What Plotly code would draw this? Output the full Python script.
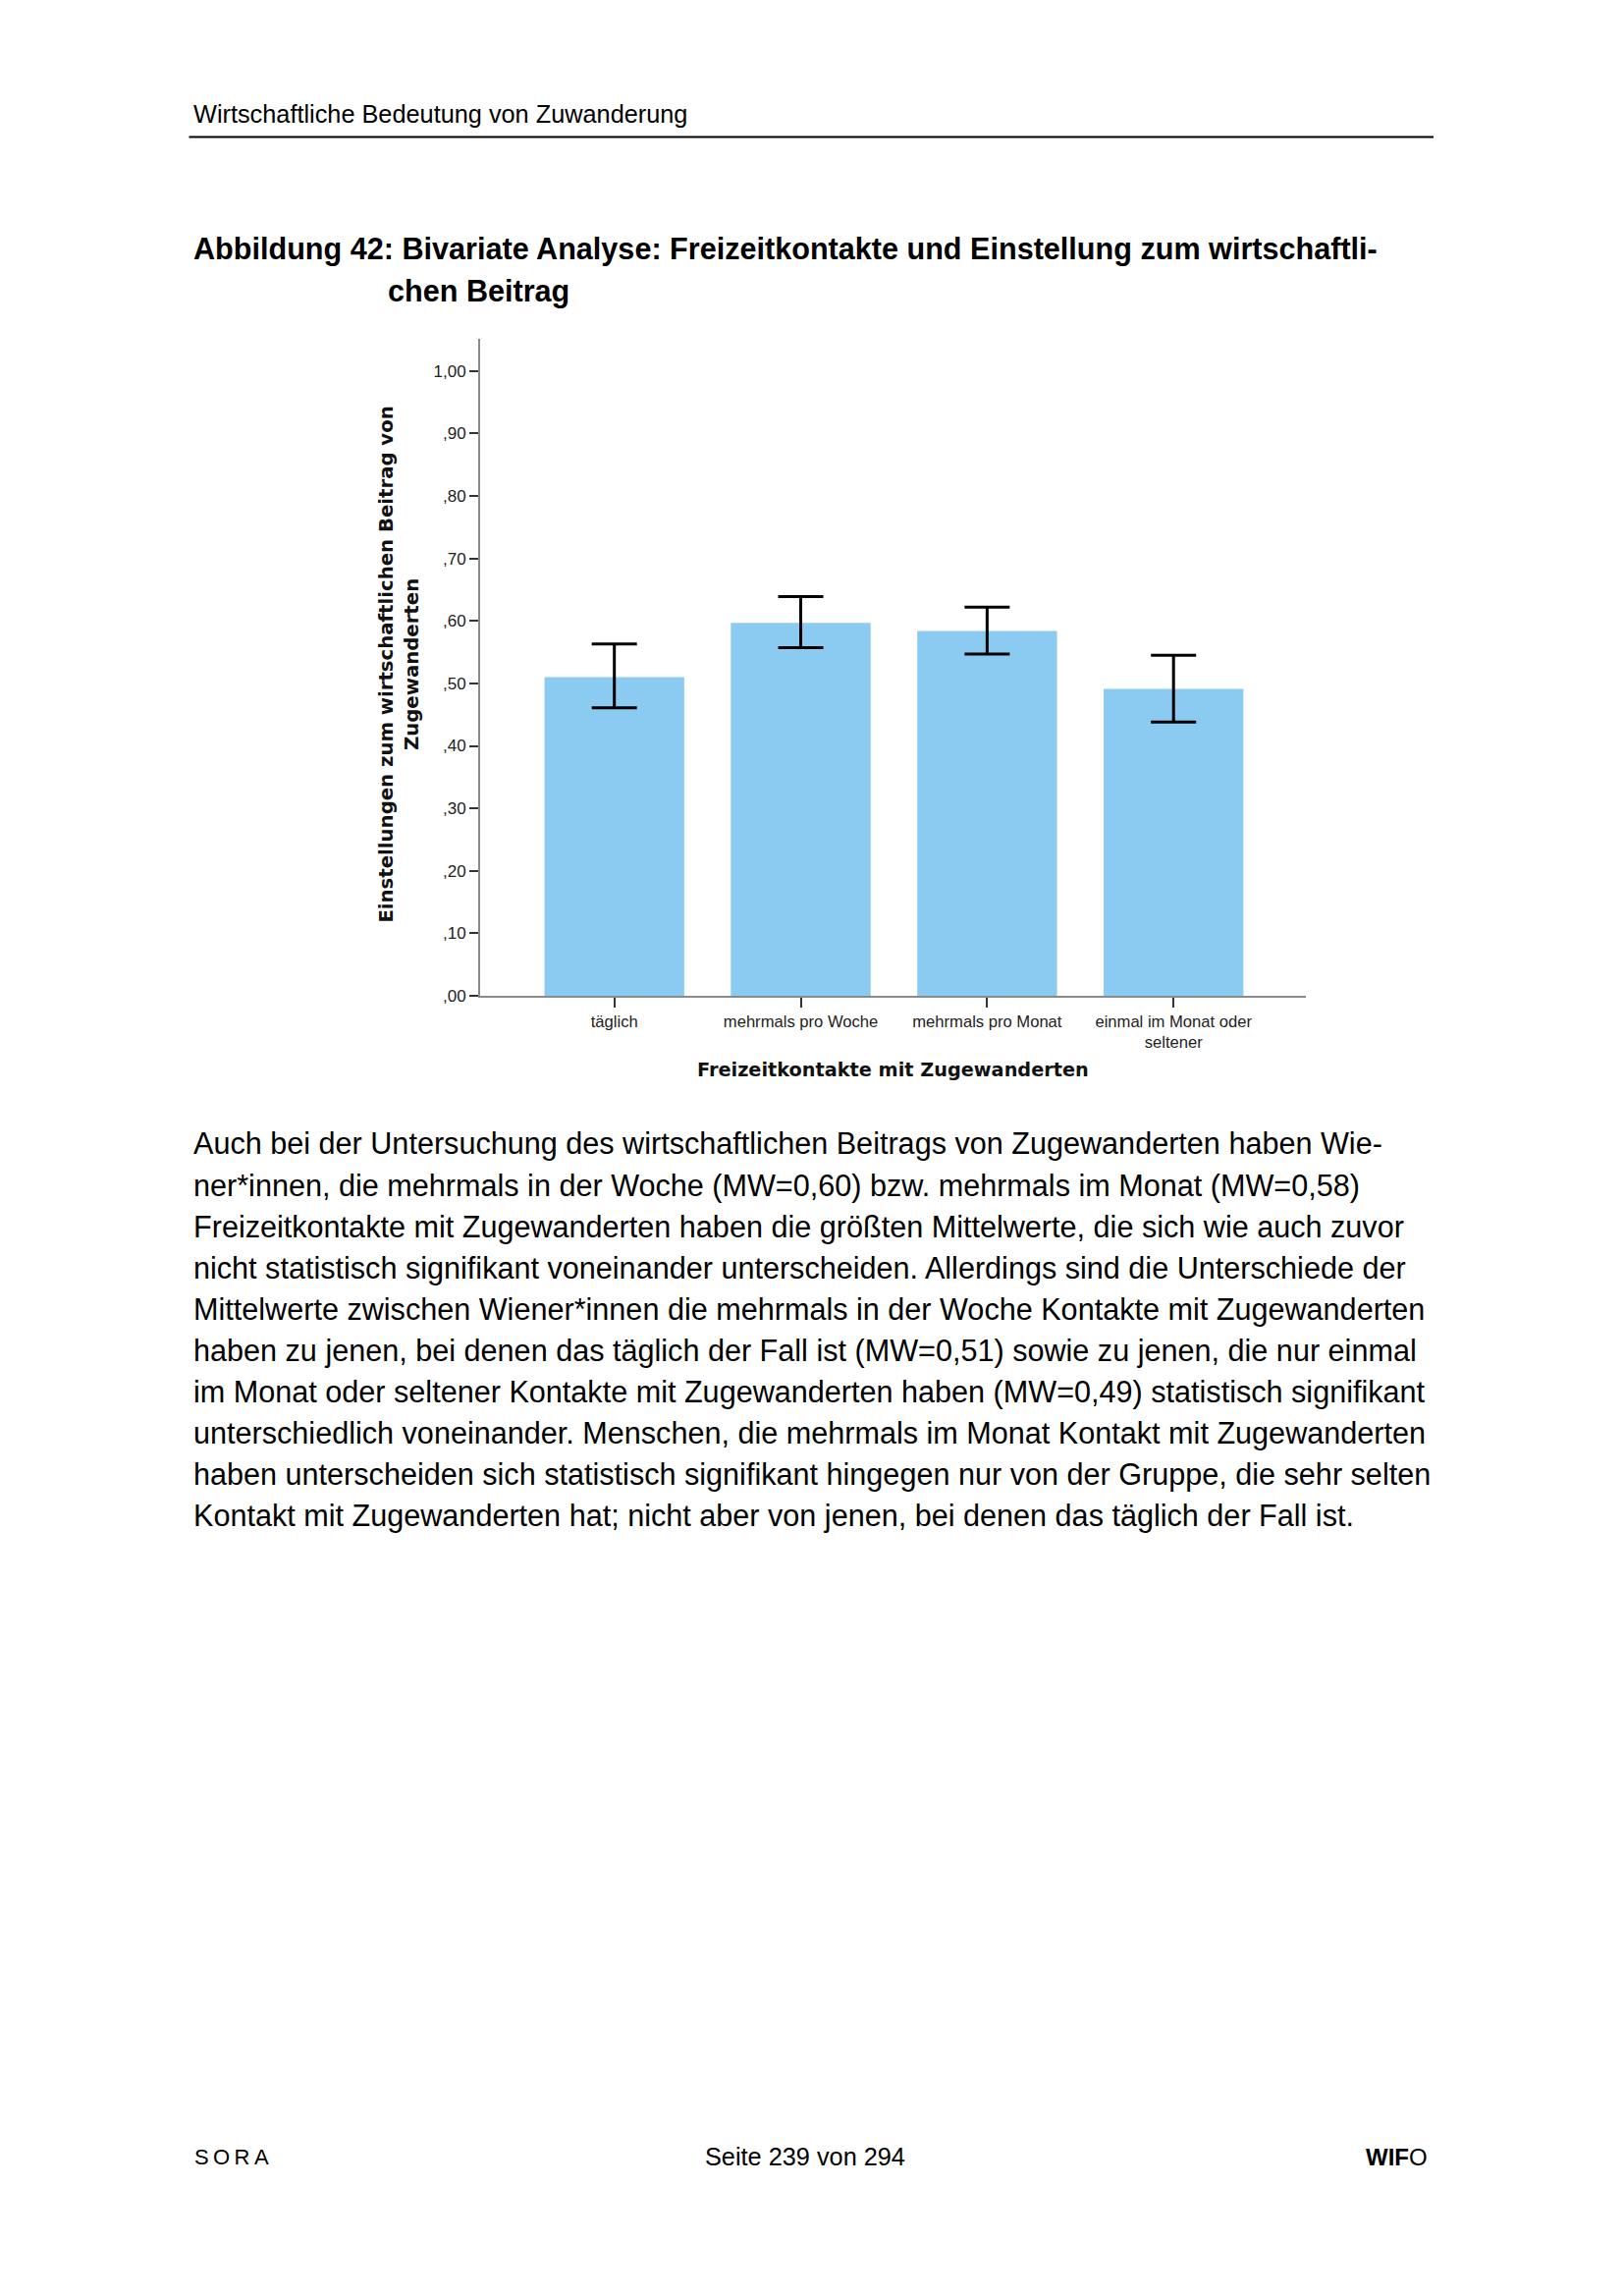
import plotly.graph_objects as go

# ---------------- data ----------------
categories = ["täglich", "mehrmals pro Woche", "mehrmals pro Monat", "einmal im Monat oder<br>seltener"]
means = [0.510, 0.597, 0.584, 0.491]
ci_upper = [0.563, 0.639, 0.622, 0.545]
ci_lower = [0.461, 0.557, 0.547, 0.438]
y_tick_vals = [0.0, 0.1, 0.2, 0.3, 0.4, 0.5, 0.6, 0.7, 0.8, 0.9, 1.0]
y_tick_text = [",00", ",10", ",20", ",30", ",40", ",50", ",60", ",70", ",80", ",90", "1,00"]

header_text = "Wirtschaftliche Bedeutung von Zuwanderung"
title_lines = ["Abbildung 42: Bivariate Analyse: Freizeitkontakte und Einstellung zum wirtschaftli-",
               "chen Beitrag"]
y_title = "Einstellungen zum wirtschaftlichen Beitrag von<br>Zugewanderten"
x_title = "Freizeitkontakte mit Zugewanderten"
body_lines = [
    "Auch bei der Untersuchung des wirtschaftlichen Beitrags von Zugewanderten haben Wie-",
    "ner*innen, die mehrmals in der Woche (MW=0,60) bzw. mehrmals im Monat (MW=0,58)",
    "Freizeitkontakte mit Zugewanderten haben die größten Mittelwerte, die sich wie auch zuvor",
    "nicht statistisch signifikant voneinander unterscheiden. Allerdings sind die Unterschiede der",
    "Mittelwerte zwischen Wiener*innen die mehrmals in der Woche Kontakte mit Zugewanderten",
    "haben zu jenen, bei denen das täglich der Fall ist (MW=0,51) sowie zu jenen, die nur einmal",
    "im Monat oder seltener Kontakte mit Zugewanderten haben (MW=0,49) statistisch signifikant",
    "unterschiedlich voneinander. Menschen, die mehrmals im Monat Kontakt mit Zugewanderten",
    "haben unterscheiden sich statistisch signifikant hingegen nur von der Gruppe, die sehr selten",
    "Kontakt mit Zugewanderten hat; nicht aber von jenen, bei denen das täglich der Fall ist.",
]
footer_left = "S\u2009O\u2009R\u2009A"
footer_center = "Seite 239 von 294"
footer_right_bold = "WIF"
footer_right_plain = "O"

# ---------------- layout helpers ----------------
W, H = 1654, 2338
def X(px):
    return px / W
def Y(py):
    return 1 - py / H

err_plus = [u - m for u, m in zip(ci_upper, means)]
err_minus = [m - l for m, l in zip(means, ci_lower)]

fig = go.Figure()
fig.add_trace(go.Bar(
    x=categories, y=means, width=0.75,
    marker=dict(color="#8BCBF2", line=dict(width=0)),
    error_y=dict(type="data", symmetric=False, array=err_plus, arrayminus=err_minus,
                 color="black", thickness=3, width=23),
    showlegend=False, hoverinfo="skip",
))

fig.update_layout(
    width=W, height=H,
    margin=dict(l=0, r=0, t=0, b=0),
    paper_bgcolor="white", plot_bgcolor="white",
    xaxis=dict(domain=[X(489), X(1330)], range=[-0.72, 3.71],
               showline=True, linecolor="#8a8a8a", linewidth=1.5,
               ticks="outside", ticklen=10, tickwidth=2, tickcolor="#333333",
               tickfont=dict(family="Liberation Sans, Arial", size=16.6, color="#222222"),
               showgrid=False, zeroline=False),
    yaxis=dict(domain=[Y(1018.5), Y(346)], range=[0, 1.052],
               tickvals=y_tick_vals, ticktext=y_tick_text,
               showline=True, linecolor="#8a8a8a", linewidth=2,
               ticks="outside", ticklen=9, tickwidth=2, tickcolor="#333333",
               tickfont=dict(family="Liberation Sans, Arial", size=17, color="#222222"),
               showgrid=False, zeroline=False),
    font=dict(family="Liberation Sans, Arial", color="black"),
)

ann = []
# header
ann.append(dict(text=header_text, x=X(195), y=Y(116), xanchor="left", yanchor="middle",
                font=dict(size=25.3, family="Liberation Sans, Arial")))
# title
ann.append(dict(text="<b>" + title_lines[0] + "</b>", x=X(195), y=Y(254.5), xanchor="left", yanchor="middle",
                font=dict(size=30.6, family="Liberation Sans, Arial")))
ann.append(dict(text="<b>" + title_lines[1] + "</b>", x=X(392.5), y=Y(297.5), xanchor="left", yanchor="middle",
                font=dict(size=30.6, family="Liberation Sans, Arial")))
# axis titles
ann.append(dict(text="<b>" + y_title + "</b>", x=X(407), y=Y(679.5), xanchor="center", yanchor="middle",
                textangle=-90, align="center",
                font=dict(size=19.7, family="DejaVu Sans", color="#111111")))
ann.append(dict(text="<b>" + x_title + "</b>", x=X(909.5), y=Y(1094.5), xanchor="center", yanchor="middle",
                font=dict(size=19.3, family="DejaVu Sans", color="#111111")))
# body
for i, line in enumerate(body_lines):
    ann.append(dict(text=line, x=X(195), y=Y(1170 + i * 42.2), xanchor="left", yanchor="middle",
                    font=dict(size=30.6, family="Liberation Sans, Arial")))
# footer
ann.append(dict(text=footer_left, x=X(195.5), y=Y(2205.5), xanchor="left", yanchor="middle",
                font=dict(size=22, family="Liberation Sans, Arial")))
ann.append(dict(text=footer_center, x=X(820), y=Y(2205.5), xanchor="center", yanchor="middle",
                font=dict(size=25.3, family="Liberation Sans, Arial")))
ann.append(dict(text="<b>" + footer_right_bold + "</b>" + footer_right_plain, x=X(1455.5), y=Y(2205.5),
                xanchor="right", yanchor="middle",
                font=dict(size=24, family="Liberation Sans, Arial")))

for a in ann:
    a.update(xref="paper", yref="paper", showarrow=False)
fig.update_layout(annotations=ann)

fig.add_shape(type="line", xref="paper", yref="paper",
              x0=X(192.5), x1=X(1460), y0=Y(140), y1=Y(140),
              line=dict(color="black", width=2))

fig.write_html("out.html", config={"displayModeBar": False},
               post_script="document.body.style.margin='0';")
